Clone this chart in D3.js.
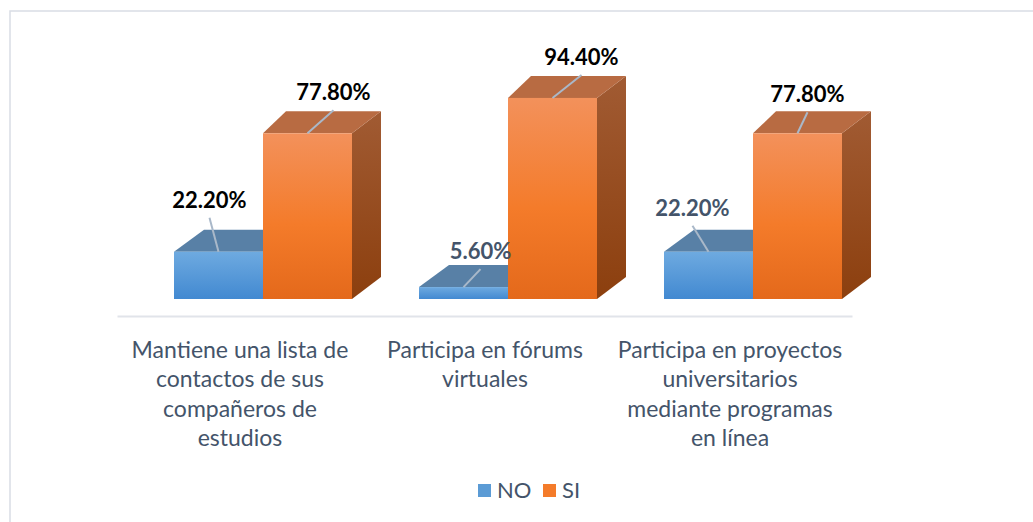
<!DOCTYPE html>
<html>
<head>
<meta charset="utf-8">
<script src="https://cdn.jsdelivr.net/npm/d3@7"></script>
<style>
  body { margin: 0; background: #fff; }
  svg { display: block; font-family: Lato, "Open Sans", sans-serif; }
</style>
</head>
<body>
<svg width="1033" height="522"></svg>
<script>
const categories = [
  ["Mantiene una lista de", "contactos de sus", "compañeros de", "estudios"],
  ["Participa en fórums", "virtuales"],
  ["Participa en proyectos", "universitarios", "mediante programas", "en línea"]
];
const series = ["NO", "SI"];
const valuesNO = [22.2, 5.6, 22.2];
const valuesSI = [77.8, 94.4, 77.8];

// label placement relative to the top face (leader vector), and ink per label
const leaderNO = [[-9, -34], [17, -18], [-16, -26]];
const leaderSI = [[26, -23], [29, -23], [10, -21]];
const inkNO = ["#000", "#44546a", "#44546a"];
const inkSI = ["#000", "#000", "#000"];

const svg = d3.select("svg");
const defs = svg.append("defs");

function grad(id, stops) {
  const g = defs.append("linearGradient").attr("id", id)
    .attr("x1", 0).attr("y1", 0).attr("x2", 0).attr("y2", 1);
  stops.forEach(s => g.append("stop").attr("offset", s[0]).attr("stop-color", s[1]));
}
grad("noFront", [[0, "#6eaae0"], [1, "#4289d1"]]);
grad("siFront", [[0, "#f3915b"], [0.55, "#f47b2a"], [1, "#e4691b"]]);
grad("siSide", [[0, "#a15b33"], [1, "#8c3f0e"]]);
grad("noSide", [[0, "#3e6d9c"], [1, "#2f5c88"]]);

const style = {
  NO: {front: "url(#noFront)", top: "#5880a6", side: "url(#noSide)", dxL: 30, dxR: 30},
  SI: {front: "url(#siFront)", top: "#b86b42", side: "url(#siSide)", dxL: 23, dxR: 29}
};
const depthY = -22;

// chart frame
svg.append("rect").attr("x", 10).attr("y", 11).attr("width", 1040).attr("height", 540)
  .attr("fill", "none").attr("stroke", "#d9dde5").attr("stroke-width", 1.5);

const x0 = d3.scaleBand().domain(d3.range(categories.length)).range([117.5, 852.5]);
const x1 = d3.scaleBand().domain(series).range([0, 178]);
const y = d3.scaleLinear().domain([0, 100]).range([299, 86]);
const shift = (x0.bandwidth() - x1.range()[1]) / 2 + 23;

// floor / category axis line
svg.append("line")
  .attr("x1", x0.range()[0]).attr("x2", x0.range()[1])
  .attr("y1", 316.5).attr("y2", 316.5)
  .attr("stroke", "#e1e4ea").attr("stroke-width", 2);

const bars = [];
categories.forEach((c, i) => {
  bars.push({cat: i, s: "NO", v: valuesNO[i], leader: leaderNO[i], ink: inkNO[i]});
  bars.push({cat: i, s: "SI", v: valuesSI[i], leader: leaderSI[i], ink: inkSI[i]});
});

const gBars = svg.append("g");
bars.forEach(b => {
  const st = style[b.s];
  const xl = x0(b.cat) + shift + x1(b.s);
  const w = x1.bandwidth();
  const yt = y(b.v), yb = y(0);
  const pts = p => p.map(q => q.join(",")).join(" ");
  const g = gBars.append("g");
  g.append("polygon").attr("fill", st.side)
    .attr("points", pts([[xl + w, yt], [xl + w + st.dxR, yt + depthY], [xl + w + st.dxR, yb + depthY], [xl + w, yb]]));
  g.append("polygon").attr("fill", st.top)
    .attr("points", pts([[xl, yt], [xl + st.dxL, yt + depthY], [xl + w + st.dxR, yt + depthY], [xl + w, yt]]));
  g.append("rect").attr("x", xl).attr("y", yt).attr("width", w).attr("height", yb - yt)
    .attr("fill", st.front);
  b.ax = xl + w / 2;
  b.ay = yt;
});

// data labels with leader lines
const gLab = svg.append("g");
bars.forEach(b => {
  const ex = b.ax + b.leader[0], ey = b.ay + b.leader[1];
  gLab.append("line").attr("x1", b.ax).attr("y1", b.ay).attr("x2", ex).attr("y2", ey)
    .attr("stroke", "#a9b8c9").attr("stroke-width", 2);
  gLab.append("text").attr("x", ex).attr("y", ey - 10)
    .attr("text-anchor", "middle").attr("font-size", 22).attr("font-weight", 700)
    .attr("fill", b.ink).text(d3.format(".2f")(b.v) + "%");
});

// category labels
categories.forEach((lines, i) => {
  const t = svg.append("text").attr("text-anchor", "middle").attr("font-size", 23)
    .attr("fill", "#44546a");
  lines.forEach((l, k) => {
    t.append("tspan").attr("x", x0(i) + x0.bandwidth() / 2).attr("y", 358 + k * 29.3).text(l);
  });
});

// legend
const legend = svg.append("g");
const legX = [478, 543];
series.forEach((s, i) => {
  legend.append("rect").attr("x", legX[i]).attr("y", 484).attr("width", 13).attr("height", 13)
    .attr("fill", s === "NO" ? "#5b9bd5" : "#f47b2a");
  legend.append("text").attr("x", legX[i] + 19).attr("y", 498).attr("font-size", 22)
    .attr("fill", "#44546a").text(s);
});
</script>
</body>
</html>
